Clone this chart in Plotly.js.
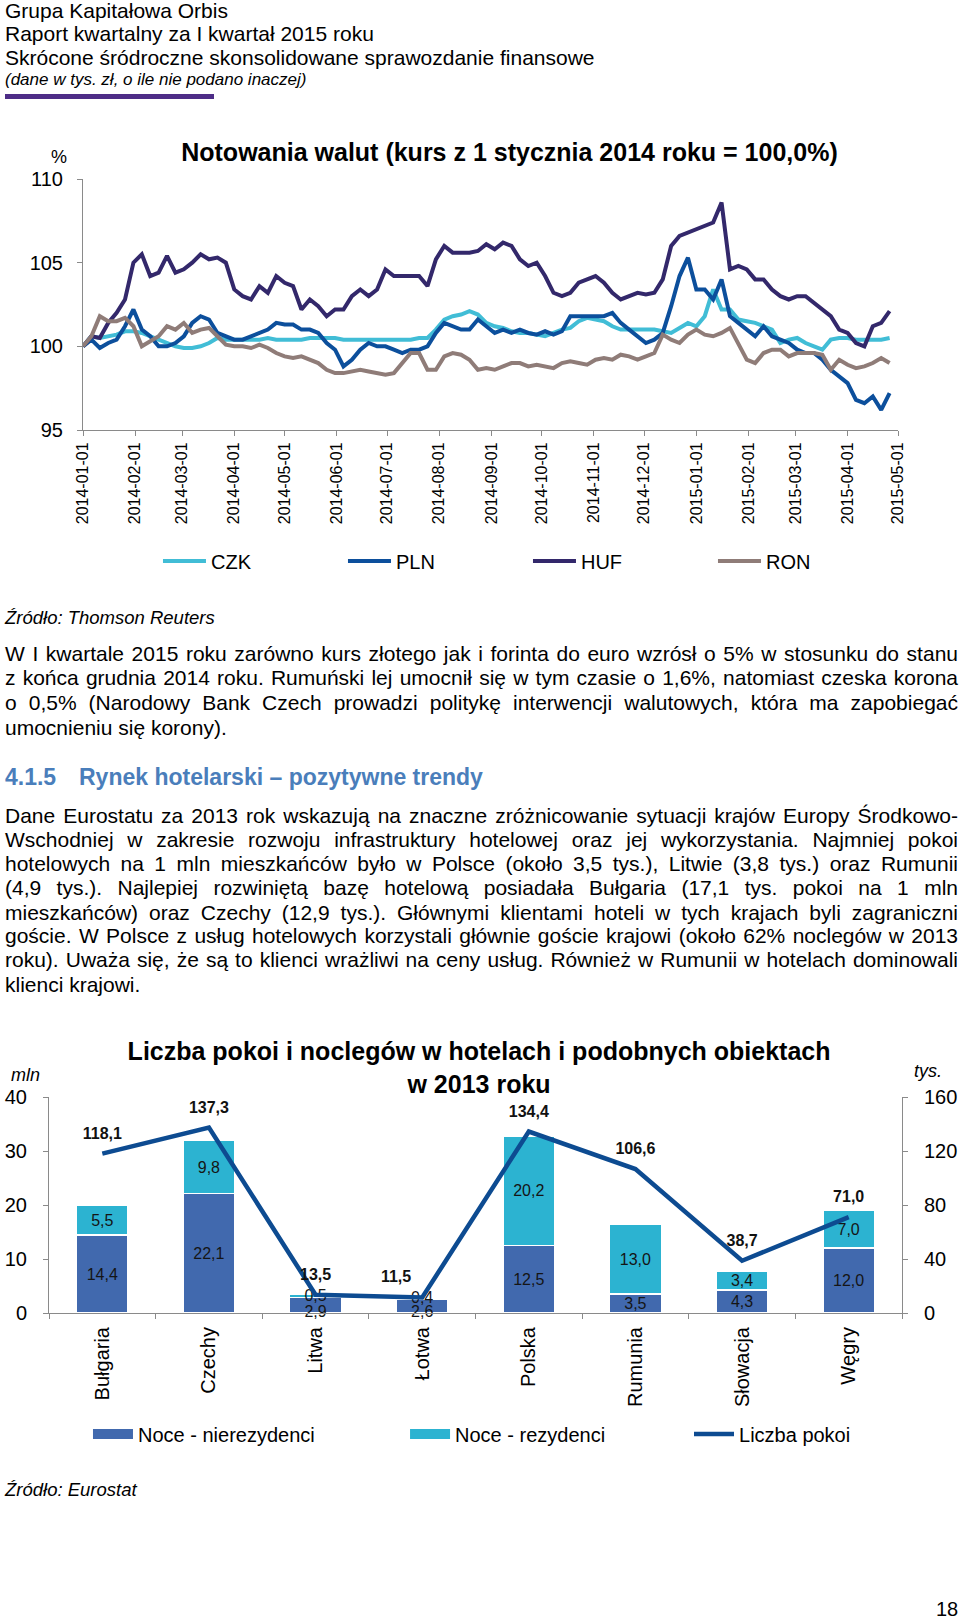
<!DOCTYPE html>
<html>
<head>
<meta charset="utf-8">
<script src="https://cdn.plot.ly/plotly-3.0.1.min.js"></script>
<style>
  html, body { margin:0; padding:0; background:#fff; }
  #page { position:relative; width:960px; height:1619px; overflow:hidden; background:#fff;
          font-family:'Liberation Sans', Arial, sans-serif; color:#000; }
  .ln { position:absolute; left:5px; width:953px; height:24px; line-height:24px; font-size:21px;
        text-align:justify; text-align-last:justify; white-space:nowrap; }
  .last { text-align-last:left; }
  .hd { position:absolute; left:5px; height:24px; line-height:24px; font-size:21px; white-space:nowrap; }
  .it { font-style:italic; }
  #chart1 { position:absolute; left:0; top:120px; width:960px; height:520px; }
  #chart2 { position:absolute; left:0; top:1000px; width:960px; height:520px; }
</style>
</head>
<body>
<div id="page">
  <div class="hd" style="top:-1.5px">Grupa Kapitałowa Orbis</div>
  <div class="hd" style="top:22px">Raport kwartalny za I kwartał 2015 roku</div>
  <div class="hd" style="top:46px">Skrócone śródroczne skonsolidowane sprawozdanie finansowe</div>
  <div class="hd it" style="top:67.5px;font-size:17px">(dane w tys. zł, o ile nie podano inaczej)</div>
  <div style="position:absolute;left:5px;top:94px;width:209px;height:5px;background:#4e2d87"></div>

  <div id="chart1"></div>

  <div class="hd it" style="top:606px;font-size:18.5px">Źródło: Thomson Reuters</div>

  <div class="ln" style="top:641.5px">W I kwartale 2015 roku zarówno kurs złotego jak i forinta do euro wzrósł o 5% w stosunku do stanu</div>
  <div class="ln" style="top:666.3px">z końca grudnia 2014 roku. Rumuński lej umocnił się w tym czasie o 1,6%, natomiast czeska korona</div>
  <div class="ln" style="top:691px">o 0,5% (Narodowy Bank Czech prowadzi politykę interwencji walutowych, która ma zapobiegać</div>
  <div class="ln last" style="top:715.8px">umocnieniu się korony).</div>

  <div class="hd" style="top:765px;font-weight:bold;font-size:23px;color:#4a7ebb">4.1.5</div>
  <div class="hd" style="top:765px;left:79px;font-weight:bold;font-size:23px;color:#4a7ebb">Rynek hotelarski – pozytywne trendy</div>

  <div class="ln" style="top:803.5px">Dane Eurostatu za 2013 rok wskazują na znaczne zróżnicowanie sytuacji krajów Europy Środkowo-</div>
  <div class="ln" style="top:828px">Wschodniej w zakresie rozwoju infrastruktury hotelowej oraz jej wykorzystania. Najmniej pokoi</div>
  <div class="ln" style="top:852px">hotelowych na 1 mln mieszkańców było w Polsce (około 3,5 tys.), Litwie (3,8 tys.) oraz Rumunii</div>
  <div class="ln" style="top:875.7px">(4,9 tys.). Najlepiej rozwiniętą bazę hotelową posiadała Bułgaria (17,1 tys. pokoi na 1 mln</div>
  <div class="ln" style="top:900.5px">mieszkańców) oraz Czechy (12,9 tys.). Głównymi klientami hoteli w tych krajach byli zagraniczni</div>
  <div class="ln" style="top:924px">goście. W Polsce z usług hotelowych korzystali głównie goście krajowi (około 62% noclegów w 2013</div>
  <div class="ln" style="top:948px">roku). Uważa się, że są to klienci wrażliwi na ceny usług. Również w Rumunii w hotelach dominowali</div>
  <div class="ln last" style="top:972.8px">klienci krajowi.</div>

  <div id="chart2"></div>

  <div class="hd it" style="top:1478px;font-size:18.5px">Źródło: Eurostat</div>
  <div class="hd" style="top:1597px;left:936px;font-size:20px">18</div>
</div>

<script>
// ---------- Chart 1: currency quotes (1 Jan 2014 = 100) ----------
const dates = [
 '2014-01-01','2014-01-06','2014-01-11','2014-01-16','2014-01-21','2014-01-26','2014-01-31',
 '2014-02-05','2014-02-10','2014-02-15','2014-02-20','2014-02-25',
 '2014-03-02','2014-03-07','2014-03-12','2014-03-17','2014-03-22','2014-03-27',
 '2014-04-01','2014-04-06','2014-04-11','2014-04-16','2014-04-21','2014-04-26',
 '2014-05-01','2014-05-06','2014-05-11','2014-05-16','2014-05-21','2014-05-26','2014-05-31',
 '2014-06-05','2014-06-10','2014-06-15','2014-06-20','2014-06-25','2014-06-30',
 '2014-07-05','2014-07-10','2014-07-15','2014-07-20','2014-07-25','2014-07-30',
 '2014-08-04','2014-08-09','2014-08-14','2014-08-19','2014-08-24','2014-08-29',
 '2014-09-03','2014-09-08','2014-09-13','2014-09-18','2014-09-23','2014-09-28',
 '2014-10-03','2014-10-08','2014-10-13','2014-10-18','2014-10-23','2014-10-28',
 '2014-11-02','2014-11-07','2014-11-12','2014-11-17','2014-11-22','2014-11-27',
 '2014-12-02','2014-12-07','2014-12-12','2014-12-17','2014-12-22','2014-12-27',
 '2015-01-01','2015-01-06','2015-01-11','2015-01-16','2015-01-21','2015-01-26','2015-01-31',
 '2015-02-05','2015-02-10','2015-02-15','2015-02-20','2015-02-25',
 '2015-03-02','2015-03-07','2015-03-12','2015-03-17','2015-03-22','2015-03-27',
 '2015-04-01','2015-04-06','2015-04-11','2015-04-16','2015-04-21','2015-04-26'
];
const czk = [
 100.0,100.6,100.5,100.6,100.7,100.9,100.9,
 100.8,100.6,100.4,100.2,100.0,
 99.9,99.9,100.0,100.2,100.5,100.4,
 100.4,100.4,100.4,100.4,100.5,100.4,
 100.4,100.4,100.4,100.5,100.5,100.5,100.5,
 100.4,100.4,100.4,100.4,100.4,100.4,
 100.4,100.4,100.4,100.5,100.5,101.0,
 101.6,101.8,101.9,102.1,101.9,101.4,
 101.2,101.1,100.9,100.8,100.8,100.7,
 100.6,100.8,101.0,101.1,101.5,101.7,
 101.6,101.5,101.2,101.0,101.0,101.0,
 101.0,101.0,100.9,100.8,101.1,101.4,
 101.2,101.8,103.4,102.2,102.2,101.6,101.5,
 101.4,101.2,101.0,100.2,100.4,
 100.5,100.2,100.0,99.8,100.4,100.5,
 100.5,100.4,100.4,100.4,100.4,100.5
];
const pln = [
 100.0,100.4,99.9,100.2,100.4,101.2,102.2,
 101.0,100.6,100.0,100.0,100.2,
 100.6,101.4,101.8,101.6,100.8,100.6,
 100.4,100.4,100.6,100.8,101.0,101.4,
 101.3,101.3,101.0,101.0,100.8,100.2,99.8,
 98.8,99.2,99.8,100.2,100.0,100.0,
 99.8,99.6,99.8,99.8,100.0,100.8,
 101.4,101.2,101.0,101.0,101.6,101.2,
 100.8,101.0,100.8,101.0,100.8,100.7,
 100.9,100.7,100.9,101.8,101.8,101.8,
 101.8,101.8,102.0,101.4,101.0,100.6,
 100.2,100.4,100.8,102.4,104.2,105.3,
 103.4,103.4,102.8,104.0,101.8,101.4,101.0,
 100.6,101.2,100.6,100.4,100.2,
 99.8,99.6,99.6,99.2,98.6,98.2,
 97.8,96.8,96.6,97.0,96.2,97.2
];
const huf = [
 100.0,100.6,100.5,101.4,102.0,102.8,105.0,
 105.5,104.2,104.4,105.4,104.4,
 104.6,105.0,105.5,105.2,105.3,105.0,
 103.4,103.0,102.8,103.6,103.2,104.2,
 103.8,103.6,102.2,102.8,102.4,101.8,102.2,
 102.2,103.0,103.4,103.0,103.4,104.6,
 104.2,104.2,104.2,104.2,103.6,105.2,
 106.0,105.6,105.6,105.6,105.7,106.1,
 105.8,106.2,106.0,105.2,104.8,105.0,
 104.2,103.2,103.0,103.2,103.8,104.0,
 104.2,103.8,103.2,102.8,103.0,103.2,
 103.1,103.2,104.0,106.0,106.6,106.8,
 107.0,107.2,107.4,108.6,104.6,104.8,104.6,
 104.0,104.0,103.4,103.0,102.8,
 103.0,103.0,102.6,102.2,101.8,101.0,
 100.8,100.2,100.0,101.2,101.4,102.1
];
const ron = [
 100.0,100.6,101.8,101.5,101.5,101.7,101.2,
 100.0,100.3,100.6,101.2,101.0,
 101.4,100.8,101.0,101.1,100.6,100.1,
 100.0,100.0,99.9,100.1,99.9,99.6,
 99.4,99.3,99.4,99.2,99.0,98.6,98.4,
 98.4,98.5,98.6,98.5,98.4,98.3,
 98.4,99.0,99.6,99.6,98.6,98.6,
 99.4,99.6,99.5,99.2,98.6,98.7,
 98.6,98.8,99.0,99.0,98.8,98.9,
 98.8,98.7,99.0,99.1,99.0,98.9,
 99.2,99.3,99.2,99.5,99.4,99.2,
 99.4,99.6,100.7,100.4,100.2,100.7,
 101.0,100.7,100.6,100.8,101.1,100.2,99.2,
 99.0,99.6,99.8,99.8,99.4,
 99.6,99.6,99.6,99.5,98.6,99.2,
 98.9,98.7,98.8,99.0,99.3,99.0
];
const seriesNames = ['CZK','PLN','HUF','RON'];
const seriesColors = ['#41bdd6','#0c4f9c','#33286b','#8f7c78'];
const seriesData = [czk, pln, huf, ron];

const FONT = 'Liberation Sans, Arial, sans-serif';
const AX = '#8a8a8a';

const traces1 = seriesData.map((vals, i) => ({
  type:'scatter', mode:'lines', x:dates, y:vals, name:seriesNames[i],
  line:{color:seriesColors[i], width:4}, hoverinfo:'skip'
}));

const layout1 = {
  width:960, height:520,
  margin:{l:83, r:62, t:59, b:210},
  paper_bgcolor:'rgba(0,0,0,0)', plot_bgcolor:'#fff',
  font:{family:FONT, color:'#000'},
  separators:', ',
  showlegend:true,
  title:{text:'<b>Notowania walut (kurs z 1 stycznia 2014 roku = 100,0%)</b>',
         font:{size:25, family:FONT, color:'#000'},
         xref:'container', x:0.5307, xanchor:'center',
         yref:'container', y:1-32/520, yanchor:'middle'},
  xaxis:{type:'date', range:['2014-01-01','2015-05-01'], tick0:'2014-01-01', dtick:'M1',
         tickformat:'%Y-%m-%d', tickangle:-90, ticks:'outside', ticklen:5, tickcolor:AX,
         showline:true, linecolor:AX, linewidth:1, showgrid:false, zeroline:false,
         tickfont:{size:16}, fixedrange:true},
  yaxis:{range:[95,110], tick0:95, dtick:5, ticks:'outside', ticklen:5, tickcolor:AX,
         showline:true, linecolor:AX, linewidth:1, showgrid:false, zeroline:false,
         tickfont:{size:20}, ticklabelstandoff:10, fixedrange:true},
  legend:{orientation:'h', x:0.092, xanchor:'left', y:-0.522, yanchor:'middle',
          font:{size:20}, entrywidth:127, entrywidthmode:'pixels', itemwidth:43,
          bgcolor:'rgba(0,0,0,0)', traceorder:'normal'},
  annotations:[{text:'%', xref:'paper', yref:'paper', x:-0.0294, y:1.089,
                showarrow:false, font:{size:18}, xanchor:'center', yanchor:'middle'}]
};
Plotly.newPlot('chart1', traces1, layout1, {displayModeBar:false, staticPlot:true});

// ---------- Chart 2: hotel rooms and nights 2013 ----------
const countries = ['Bułgaria','Czechy','Litwa','Łotwa','Polska','Rumunia','Słowacja','Węgry'];
const nightsNonResidents = [14.4, 22.1, 2.9, 2.6, 12.5, 3.5, 4.3, 12.0];
const nightsResidents    = [5.5, 9.8, 0.5, 0.4, 20.2, 13.0, 3.4, 7.0];
const roomsThousands     = [118.1, 137.3, 13.5, 11.5, 134.4, 106.6, 38.7, 71.0];
const roomLabelPos = ['top center','top center','top center','top left','top center','top center','top center','top center'];

const C_NONRES = '#4169ae', C_RES = '#2cb3d1', C_LINE = '#0d4b91';
const fmt = v => v.toFixed(1).replace('.', ',');
// very thin non-resident segments: label sits on the base line, as in the original
const thin = nightsNonResidents.map(v => v < 3);

const barCommon = {
  type:'bar', x:countries, texttemplate:'%{y:.1f}',
  insidetextanchor:'middle', textangle:0, constraintext:'none',
  textfont:{size:16, color:'#151515'}, showlegend:false, hoverinfo:'skip'
};
const traces2 = [
  Object.assign({}, barCommon, {y:nightsNonResidents, name:'Noce - nierezydenci',
    textposition: thin.map(t => t ? 'none' : 'inside'),
    marker:{color:C_NONRES, line:{color:'#fff', width:1.5}}}),
  Object.assign({}, barCommon, {y:nightsResidents, name:'Noce - rezydenci',
    textposition:'inside',
    marker:{color:C_RES, line:{color:'#fff', width:1.5}}}),
  {type:'scatter', mode:'text', cliponaxis:false, showlegend:false, hoverinfo:'skip',
   x:countries.filter((c, i) => thin[i]),
   y:nightsNonResidents.filter((v, i) => thin[i]).map(() => 0),
   text:nightsNonResidents.filter((v, i) => thin[i]).map(fmt),
   textposition:'middle center', textfont:{size:16, color:'#151515'}},
  {type:'scatter', mode:'lines', x:[null], y:[null], name:'Noce - nierezydenci',
   line:{color:C_NONRES, width:10}, legend:'legend', hoverinfo:'skip'},
  {type:'scatter', mode:'lines', x:[null], y:[null], name:'Noce - rezydenci',
   line:{color:C_RES, width:10}, legend:'legend2', hoverinfo:'skip'},
  {type:'scatter', mode:'lines+markers+text', x:countries, y:roomsThousands, yaxis:'y2',
   name:'Liczba pokoi', line:{color:C_LINE, width:4.5}, cliponaxis:false,
   marker:{size:16, color:'rgba(0,0,0,0)'}, legend:'legend3',
   texttemplate:'%{y:.1f}', textposition:roomLabelPos,
   textfont:{size:16, color:'#111', weight:700}, hoverinfo:'skip'}
];

const legBase = {orientation:'h', xanchor:'left', y:-0.560, yanchor:'middle',
                 font:{size:20}, itemwidth:40, bgcolor:'rgba(0,0,0,0)'};
const layout2 = {
  width:960, height:520,
  margin:{l:49, r:58, t:97, b:207},
  paper_bgcolor:'rgba(0,0,0,0)', plot_bgcolor:'#fff',
  font:{family:FONT, color:'#000'},
  separators:', ',
  barmode:'stack', bargap:0.515,
  showlegend:true,
  title:{text:'<b>Liczba pokoi i noclegów w hotelach i podobnych obiektach<br>w 2013 roku</b>',
         font:{size:25, family:FONT, color:'#000'},
         xref:'container', x:0.499, xanchor:'center',
         yref:'container', y:1-60/520, yanchor:'middle'},
  xaxis:{type:'category', tickangle:-90, ticks:'outside', tickson:'boundaries', ticklen:5,
         tickcolor:AX, showline:true, linecolor:AX, linewidth:1, showgrid:false,
         tickfont:{size:20}, ticklabelstandoff:5, fixedrange:true},
  yaxis:{range:[0,40], tick0:0, dtick:10, ticks:'outside', ticklen:5, tickcolor:AX,
         showline:true, linecolor:AX, linewidth:1, showgrid:false, zeroline:false,
         tickfont:{size:20}, ticklabelstandoff:12, fixedrange:true},
  yaxis2:{overlaying:'y', side:'right', range:[0,160], tick0:0, dtick:40, ticks:'outside',
          ticklen:5, tickcolor:AX, showline:true, linecolor:AX, linewidth:1, showgrid:false,
          zeroline:false, tickfont:{size:20}, ticklabelstandoff:12, fixedrange:true},
  legend:Object.assign({}, legBase, {x:0.0457}),
  legend2:Object.assign({}, legBase, {x:0.4174}),
  legend3:Object.assign({}, legBase, {x:0.7503}),
  uniformtext:{mode:'show', minsize:16},
  annotations:[
    {text:'<i>mln</i>', xref:'paper', yref:'paper', x:-0.027, y:1.10, showarrow:false,
     font:{size:18}, xanchor:'center', yanchor:'middle'},
    {text:'<i>tys.</i>', xref:'paper', yref:'paper', x:1.0305, y:1.119, showarrow:false,
     font:{size:18}, xanchor:'center', yanchor:'middle'}
  ]
};
Plotly.newPlot('chart2', traces2, layout2, {displayModeBar:false, staticPlot:true});
</script>
</body>
</html>
